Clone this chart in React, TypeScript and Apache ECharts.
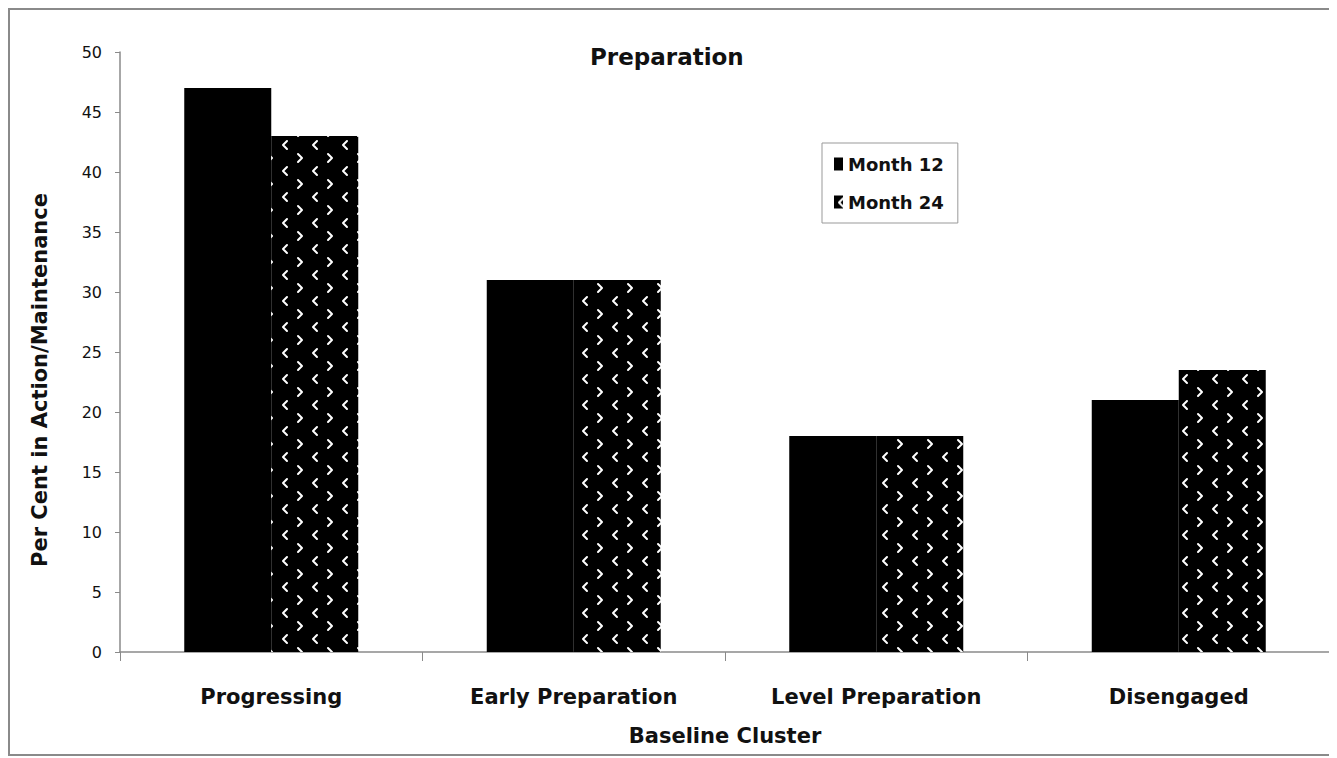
import React, { useEffect, useRef } from "react";
import * as echarts from "echarts";

const categories = ["Progressing", "Early Preparation", "Level Preparation", "Disengaged"];
const month12 = [47, 31, 18, 21];
const month24 = [43, 31, 18, 23.5];
const seriesNames = ["Month 12", "Month 24"];
const chartTitle = "Preparation";
const xName = "Baseline Cluster";
const yName = "Per Cent in Action/Maintenance";

const FONT = "'DejaVu Sans', Verdana, sans-serif";

function makePattern(): HTMLCanvasElement {
  const c = document.createElement("canvas");
  c.width = 30;
  c.height = 26;
  const ctx = c.getContext("2d")!;
  ctx.fillStyle = "#000";
  ctx.fillRect(0, 0, 30, 26);
  ctx.strokeStyle = "#fff";
  ctx.lineWidth = 2;
  ctx.lineCap = "round";
  ctx.lineJoin = "round";
  // "<"
  ctx.beginPath();
  ctx.moveTo(9, 3);
  ctx.lineTo(5, 7);
  ctx.lineTo(9, 11);
  ctx.stroke();
  // ">"
  ctx.beginPath();
  ctx.moveTo(20, 16);
  ctx.lineTo(24, 20);
  ctx.lineTo(20, 24);
  ctx.stroke();
  return c;
}

export default function App() {
  const ref = useRef<HTMLDivElement>(null);
  useEffect(() => {
    if (!ref.current) return;
    const chart = echarts.init(ref.current, undefined, { renderer: "svg" });
    const pattern = { image: makePattern(), repeat: "repeat" };
    chart.setOption({
      animation: false,
      backgroundColor: "#fff",
      title: {
        text: chartTitle,
        left: 577,
        top: 32,
        textStyle: { fontFamily: FONT, fontSize: 23, fontWeight: "bold", color: "#111" },
      },
      graphic: [
        {
          type: "rect",
          shape: { x: 1, y: 1, width: 1321, height: 746 },
          style: { fill: "none", stroke: "#8a8a8a", lineWidth: 2 },
          silent: true,
        },
      ],
      legend: {
        orient: "vertical",
        left: 814,
        top: 135,
        padding: [12, 14, 12, 12],
        borderColor: "#999",
        borderWidth: 1,
        itemWidth: 9,
        itemHeight: 13,
        itemGap: 20,
        icon: "rect",
        textStyle: { fontFamily: FONT, fontSize: 18, fontWeight: "bold", color: "#111", padding: [0, 0, 0, 0] },
        data: seriesNames,
      },
      grid: { left: 112, top: 44, right: 7, bottom: 106, containLabel: false },
      xAxis: {
        type: "category",
        data: categories,
        name: xName,
        nameLocation: "middle",
        nameGap: 73,
        nameTextStyle: { fontFamily: FONT, fontSize: 21, fontWeight: "bold", color: "#111" },
        axisLine: { lineStyle: { color: "#8a8a8a", width: 1.5 } },
        axisTick: { show: true, alignWithLabel: false, length: 9, lineStyle: { color: "#8a8a8a" } },
        axisLabel: { fontFamily: FONT, fontSize: 21, fontWeight: "bold", color: "#111", margin: 34 },
      },
      yAxis: {
        type: "value",
        min: 0,
        max: 50,
        interval: 5,
        name: yName,
        nameLocation: "middle",
        nameGap: 70,
        nameTextStyle: { fontFamily: FONT, fontSize: 21, fontWeight: "bold", color: "#111", padding: [0, 56, 0, 0] },
        splitLine: { show: false },
        axisLine: { show: true, lineStyle: { color: "#8a8a8a", width: 1.5 } },
        axisTick: { show: true, length: 5, lineStyle: { color: "#8a8a8a" } },
        axisLabel: { fontFamily: FONT, fontSize: 16, color: "#111", margin: 18 },
      },
      series: [
        {
          name: seriesNames[0],
          type: "bar",
          data: month12,
          barWidth: 87,
          barGap: "0%",
          itemStyle: { color: "#000" },
        },
        {
          name: seriesNames[1],
          type: "bar",
          data: month24,
          barWidth: 87,
          barGap: "0%",
          itemStyle: { color: pattern },
        },
      ],
    });
    return () => chart.dispose();
  }, []);
  return <div ref={ref} style={{ width: 1329, height: 750 }} />;
}
